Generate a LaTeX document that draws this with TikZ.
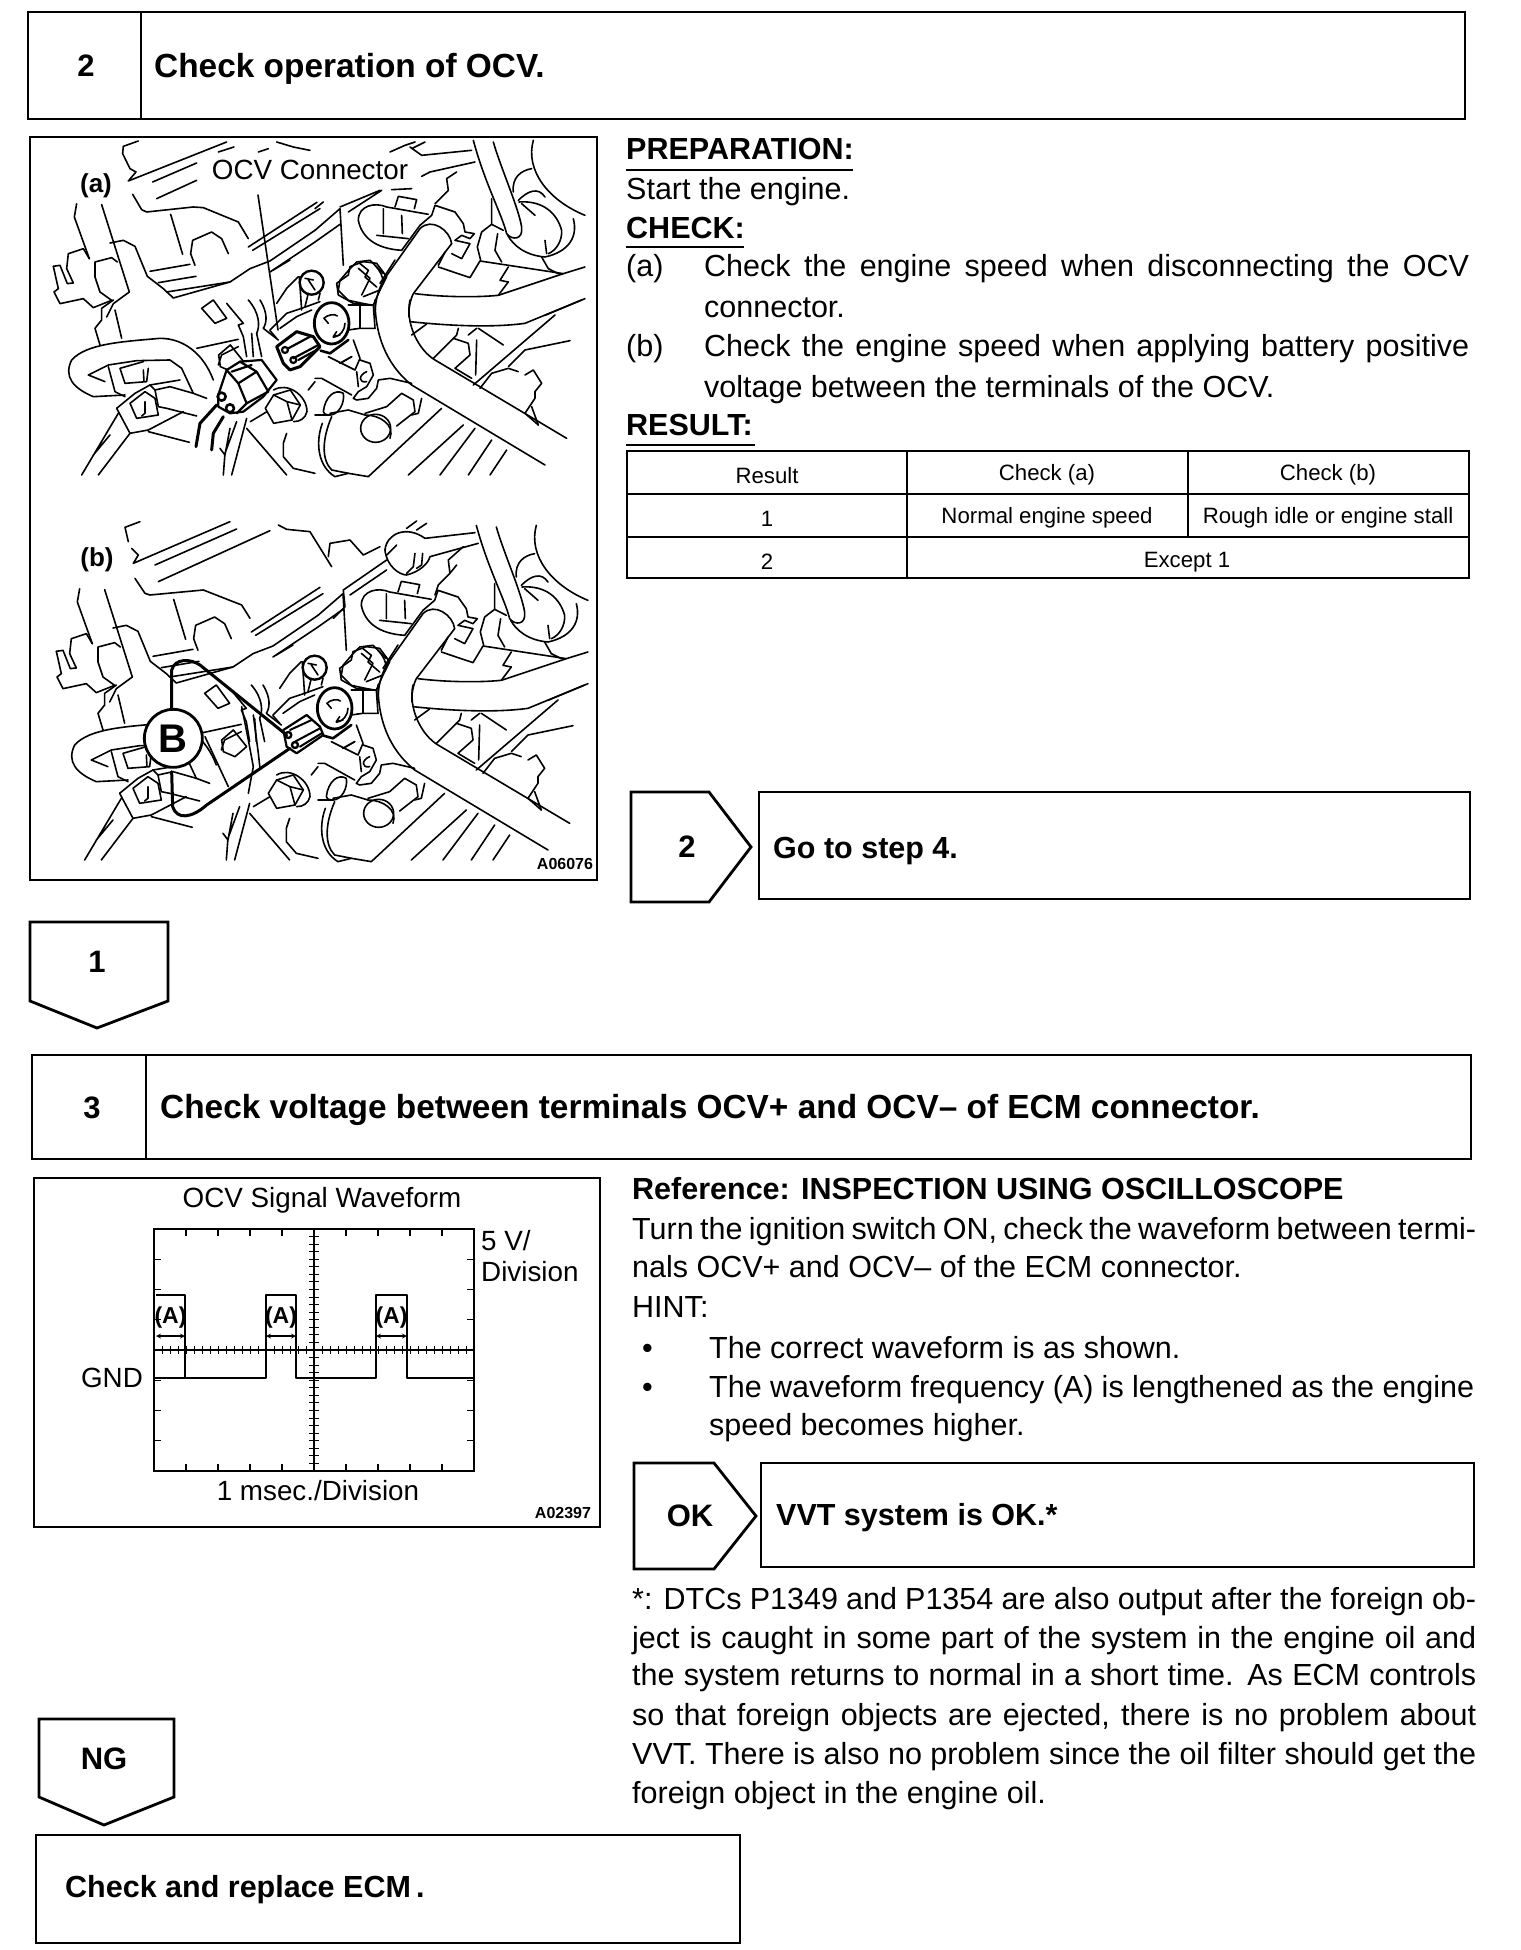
\documentclass[tikz,border=0pt]{standalone}
\usepackage{fontspec}
\setmainfont{Liberation Sans}
\newcommand{\bodyf}{\fontsize{30.5}{34}\selectfont}
\newcommand{\headf}{\fontsize{33.4}{38}\selectfont\bfseries}
\newcommand{\numf}{\fontsize{31}{36}\selectfont\bfseries}
\newcommand{\boldf}{\fontsize{30.5}{34}\selectfont\bfseries}
\newcommand{\tabf}{\fontsize{22.2}{26}\selectfont}
\newcommand{\figf}{\fontsize{27.8}{30}\selectfont}
\newcommand{\smallf}{\fontsize{16}{18}\selectfont\bfseries}
\newcommand{\jline}[2]{\makebox[#1][s]{\spaceskip=.278em plus .6em minus .2em\relax #2}}
\newcommand{\engbase}{%
 % ---- upper left quadrant
 \begin{scope}[shift={(30,137)},x=.3333pt,y=-.3333pt]
 \draw[eng] (422,232)--(458,352);
 \draw[eng] (495,385)--(482,350)--(488,310)--(545,285)--(575,305)--(595,350);
 \draw[eng] (360,403)--(480,382) (385,437)--(498,418) (410,465)--(600,435);
 \draw[eng] (140,200)--(133,240)--(178,365);
 \draw[eng] (215,203)--(298,465);
 \draw[eng] (240,318)--(280,310)--(315,328)--(352,418)--(400,455)--(430,483)--(600,435)--(660,395)--(720,372)--(855,280);
 \draw[eng] (655,330)--(861,196) (668,340)--(870,215);
 \draw[eng] (720,405)--(855,315)--(930,262);
 \draw[eng] (70,388)--(90,385)--(112,440)--(130,438)--(110,395)--(115,350)--(160,335)--(178,365);
 \draw[eng] (70,388)--(85,455)--(72,465)--(90,500)--(160,485)--(190,512)--(245,490)--(210,465)--(195,420)--(195,375)--(245,362)--(262,375);
 \draw[eng] (298,465)--(250,500)--(230,540);
 \end{scope}
 % ---- upper right quadrant
 \begin{scope}[shift={(315,137)},x=.3333pt,y=-.3333pt]
 \draw[eng] (0,280)--(75,215)--(85,385);
 \draw[eng] (410,320) .. controls (405,280) and (350,240) .. (315,275)--(205,430) .. controls (185,470) and (180,500) .. (180,540);
 \draw[eng] (410,320)--(295,470) .. controls (285,490) and (280,520) .. (282,540);
 \draw[eng] (315,265)--(350,235)--(360,205)--(420,225)--(445,260)--(450,285)--(478,290)--(465,305)--(440,295)--(420,310)--(465,320)--(440,365)--(410,350);
 \draw[eng] (130,250) .. controls (130,205) and (180,195) .. (215,210)--(340,232);
 \draw[eng] (130,250) .. controls (140,300) and (180,335) .. (260,340)--(315,265);
 \draw[eng] (205,215)--(205,290) (185,295)--(280,305) (260,235)--(262,290);
 \draw[eng] (250,178)--(305,188)--(298,215) (250,178)--(240,210);
 \draw[eng] (370,385)--(390,345) (370,390)--(465,422)--(495,372)--(745,410);
 \draw[eng] (497,370)--(487,330)--(500,285)--(530,262)--(565,280);
 \draw[eng] (530,185)--(530,262) (548,290)--(540,340)--(560,375);
 \draw[eng] (475,10) .. controls (510,140) and (560,230) .. (575,290) .. controls (590,310) and (625,310) .. (620,270) .. controls (610,210) and (560,100) .. (535,15);
 \draw[eng] (655,10) .. controls (630,100) and (700,190) .. (810,235);
 \draw[eng] (775,245) .. controls (790,300) and (760,345) .. (690,360) .. controls (630,355) and (595,325) .. (578,295);
 \draw[eng] (595,165) .. controls (590,120) and (620,100) .. (650,95);
 \draw[eng] (610,190) .. controls (640,160) and (670,150) .. (690,180);
 \draw[eng] (620,200)--(660,235);
 \draw[eng] (612,195) .. controls (680,190) and (725,225) .. (740,280) .. controls (742,310) and (725,340) .. (700,350);
 \draw[eng] (690,310)--(695,350);
 \draw[eng] (680,360)--(700,395)--(730,410);
 \draw[eng] (580,390)--(555,430)--(580,435)--(550,475);
 \draw[eng] (300,470) .. controls (380,480) and (480,482) .. (550,475)--(745,410)--(810,390);
 \draw[eng] (690,535)--(810,485);
 \draw[eng] (70,460)--(75,430)--(105,395)--(125,375)--(165,370)--(205,410);
 \draw[eng] (135,380)--(160,400)--(150,420)--(185,450);
 \draw[eng] (180,385) .. controls (195,400) and (205,420) .. (205,440);
 \draw[eng] (70,460)--(100,490)--(170,505);
 \end{scope}
 % ---- lower left quadrant
 \begin{scope}[shift={(30,300)},x=.3333pt,y=-.3333pt]
 \draw[eng] (210,135)--(195,85)--(215,60)--(215,25)--(250,0);
 \draw[eng] (255,30)--(275,115);
 \draw[eng] (550,240) .. controls (520,160) and (460,115) .. (390,115) .. controls (280,125) and (170,130) .. (125,180) .. controls (100,230) and (130,265) .. (190,290)--(285,285);
 \draw[eng] (175,225)--(235,195)--(320,182)--(420,180)--(455,205)--(490,280)--(530,295);
 \draw[eng] (175,225)--(225,245) (235,200)--(255,275)--(285,290);
 \draw[eng] (270,205)--(285,250)--(350,245)--(355,205) (270,205)--(340,185) (340,210)--(342,245);
 \draw[eng] (260,325)--(315,280)--(360,255)--(450,240);
 \draw[eng] (360,255)--(375,270)--(420,260)--(490,280);
 \draw[eng] (375,270)--(385,320)--(410,325)--(500,348);
 \draw[eng] (260,325)--(300,400)--(355,390)--(460,335);
 \draw[eng] (355,395)--(478,427);
 \draw[eng] (300,310)--(320,355)--(385,345)--(375,295)--(345,275)--cycle;
 \draw[eng] (345,305)--(345,340)--(335,348);
 \draw[eng] (155,525)--(265,340) (205,525)--(300,400) (190,465)--(240,405);
 \draw[eng] (500,145)--(625,118);
 \draw[eng] (565,195)--(575,165)--(625,140);
 \draw[eng] (515,25)--(555,70)--(590,55)--(550,0)--cycle;
 \draw[eng] (590,10)--(640,70)--(625,75)--(640,110)--(650,170);
 \draw[eng] (665,100)--(670,170) (680,100)--(695,170);
 \draw[eng] (655,0) .. controls (690,40) and (690,80) .. (680,100);
 \draw[eng] (690,0) .. controls (715,40) and (710,70) .. (700,85)--(745,120);
 \draw[eng] (580,525)--(585,460)--(620,365) (605,525)--(650,355) (570,445)--(585,465)--(600,385);
 \draw[eng] (650,385)--(770,525);
 \draw[eng] (770,400)--(760,430)--(760,470)--(790,505)--(855,520);
 \draw[eng] (835,270)--(855,245);
 \end{scope}
 % ---- lower right quadrant
 \begin{scope}[shift={(315,300)},x=.3333pt,y=-.3333pt]
 \draw[eng] (180,0) .. controls (180,100) and (210,190) .. (290,255)--(690,495);
 \draw[eng] (285,0) .. controls (270,70) and (310,150) .. (360,180)--(755,415);
 \draw[eng] (285,65) .. controls (380,75) and (520,85) .. (630,70)--(800,0);
 \draw[eng] (290,105)--(335,72) (355,175)--(425,105)--(430,85);
 \draw[eng] (415,115)--(460,130)--(465,165)--(420,205)--(470,235);
 \draw[eng] (490,85)--(565,135) (460,105)--(485,85) (485,120)--(482,225);
 \draw[eng] (475,255)--(720,45) (580,200)--(630,150)--(765,122);
 \draw[eng] (495,265)--(530,220)--(580,205)--(610,215);
 \draw[eng] (630,225)--(655,210)--(680,250)--(660,275)--(660,295)--(630,340)--(670,375);
 \draw[eng] (650,320)--(670,375);
 \draw[eng] (115,120)--(135,175)--(120,210)--(40,170);
 \draw[eng] (75,190)--(110,170);
 \draw[eng] (135,180)--(165,190)--(175,225)--(155,260)--(130,275)--(115,295)--(125,300)--(160,295)--(185,265)--(190,240)--(225,235)--(290,250);
 \draw[eng] (125,215)--(130,260);
 \draw[eng] (155,215) .. controls (130,225) and (130,250) .. (155,245);
 \draw[eng] (135,20)--(135,85) (100,15)--(170,15) (120,85)--(180,85);
 \draw[eng] (182,385) ellipse [x radius=45,y radius=42];
 \draw[eng] (150,345) .. controls (195,345) and (240,375) .. (225,415);
 \draw[eng] (150,340)--(215,320)--(260,280)--(295,300)--(300,335)--(245,378);
 \draw[eng] (320,295)--(310,340)--(290,345);
 \draw[eng] (160,530)--(380,325) (280,525)--(445,375) (375,525)--(480,385) (460,525)--(530,420) (525,525)--(575,450);
 \draw[eng] (25,335) .. controls (30,290) and (60,265) .. (85,280) .. controls (90,310) and (70,345) .. (45,345) .. controls (30,345) and (25,340) .. (25,335);
 \draw[eng] (45,340)--(100,330)--(150,345);
 \draw[eng] (22,370) .. controls (0,430) and (10,500) .. (60,530)--(100,520)--(160,530);
 \draw[eng] (50,350) .. controls (20,420) and (20,480) .. (50,510)--(100,520);
 \draw[eng] (0,235)--(20,235)--(110,285);
 \draw[eng] (0,345)--(45,345);
 \end{scope}
 % ---- centre: valve, bolt, cylinder
 \begin{scope}[shift={(230,260)},x=.3333pt,y=-.3333pt]
 \draw[eng] (130,30)--(180,0);
 \draw[eng] (140,130)--(170,85)--(205,50);
 \draw[eng] (120,210)--(170,160)--(215,145)--(270,125);
 \draw[eng] (150,205)--(200,170)--(245,150);
 \draw[eng] (120,212)--(140,235);
 \draw[eng] (208,50)--(215,150) (235,100)--(225,140) (270,100)--(265,120);
 \draw[eng,line width=2.4pt] (245,68) circle (36);
 \draw[eng] (235,60)--(255,90) (225,55)--(250,60);
 \draw[eng,line width=2.8pt] (305,190) ellipse [x radius=52,y radius=62];
 \draw[eng] (282,175) .. controls (290,165) and (315,160) .. (322,168);
 \draw[eng] (282,175)--(295,190) (320,215)--(310,230)--(330,225) (345,190) .. controls (345,210) and (330,230) .. (310,232);
 \draw[eng,line width=2.6pt] (272,272)--(300,280)--(355,240);
 \draw[eng] (330,310)--(365,290);
 \draw[eng] (325,105)--(320,70)--(355,45)--(360,20)--(400,5)--(440,10)--(470,50)--(450,90)--(400,110);
 \draw[eng] (325,105)--(370,130)--(430,135)--(450,90) (495,0)--(450,70) (385,25)--(420,55)--(395,105);
 \draw[eng] (390,140)--(390,205)--(435,205)--(430,135) (355,210)--(390,205);
 \end{scope}
 % ---- nut and hexagon
 \begin{scope}[shift={(117,255)},x=.3333pt,y=-.3333pt]
 \draw[eng] (305,300)--(340,270)--(380,320)--(345,350)--(310,335)--cycle;
 \draw[eng] (445,460)--(470,420)--(520,405)--(550,450)--(525,495)--(470,505)--cycle;
 \draw[eng] (470,420)--(510,440)--(550,450) (510,440)--(525,495);
 \draw[eng] (470,405) .. controls (510,380) and (570,420) .. (570,470) .. controls (565,490) and (550,500) .. (530,500);
 \draw[eng] (400,500)--(450,470);
 \end{scope}
}
\tikzset{
 x=1pt,y=-1pt,
 box/.style={draw,line width=2.8pt,line join=miter},
 eng/.style={draw,line width=1.6pt,line join=round,line cap=round},
 lead/.style={draw,line width=3pt,line join=round,line cap=round},
 trace/.style={draw,line width=2.6pt,line join=round},
 grid/.style={draw,line width=1.6pt},
 tick/.style={draw,line width=1pt},
 body/.style={anchor=base west,inner sep=0pt,font=\bodyf},
 bold/.style={anchor=base west,inner sep=0pt,font=\boldf},
 head/.style={anchor=base west,inner sep=0pt,font=\headf},
 num/.style={anchor=center,inner sep=0pt,font=\numf},
 cell/.style={anchor=center,inner sep=0pt,font=\tabf},
 fig/.style={anchor=center,inner sep=0pt,font=\figf},
 code/.style={anchor=center,inner sep=0pt,font=\smallf},
 rule/.style={draw,line width=1.8pt},
 panel/.style={anchor=center,inner sep=0pt,font=\fontsize{26}{30}\selectfont\bfseries},
}
\begin{document}
\begin{tikzpicture}
\useasboundingbox[fill=white] (0,0) rectangle (1520,1950);
% ---- step 2 header
\draw[box] (28,12) rectangle (1465,119);
\draw[box] (141,12)--(141,119);
\node[num] (n2) at (86,66) {2};
\node[head] (h2) at (154,78) {Check operation of OCV.};
% ---- engine illustration
\draw[box] (30,137) rectangle (597,880);
\engbase
% top strip of view (a)
\begin{scope}[shift={(30,137)},x=.3333pt,y=-.3333pt]
 \draw[eng] (325,12)--(280,28)--(278,50)--(300,95)--(318,105)--(295,132)--(590,15);
 \draw[eng] (368,135)--(500,78) (380,185)--(500,130);
 \draw[eng] (565,45)--(612,30) (685,45)--(715,35) (740,15)--(790,30)--(840,40);
 \draw[eng] (308,172)--(335,218)--(350,225)--(490,210)--(520,212)--(625,255)--(655,305);
\end{scope}
\begin{scope}[shift={(315,137)},x=.3333pt,y=-.3333pt]
 \draw[eng] (225,45)--(270,25)--(300,15) (290,35)--(330,15) (285,30)--(320,55)--(470,40);
 \draw[eng] (320,118)--(345,105)--(480,75);
 \draw[eng] (400,160)--(395,125)--(425,105) (400,160)--(360,200);
 \draw[eng] (0,215)--(25,195) (100,225)--(200,160) (75,210)--(195,160) (230,158)--(290,155);
\end{scope}
\begin{scope}[shift={(230,260)},x=.3333pt,y=-.3333pt]
 % connector of view (a), plugged-off half
 \draw[eng,line width=3pt,fill=white] (140,260)--(200,215)--(250,230)--(270,260)--(210,320)--(180,330)--(160,310)--cycle;
 \draw[eng,line width=2.2pt] (175,265)--(240,230) (190,295)--(265,255) (205,300)--(260,270);
 \draw[eng,line width=2.2pt] (165,270) circle (9) (190,300) circle (9);
\end{scope}
\begin{scope}[shift={(30,300)},x=.3333pt,y=-.3333pt]
 \draw[eng,line width=2.2pt,fill=white] (565,285)--(590,210)--(630,185)--(695,180)--(740,240)--(700,290)--(640,335)--(600,340)--(565,320)--cycle;
 \draw[eng,line width=2.2pt] (625,250)--(680,215)--(715,275)--(650,310)--cycle (590,210)--(625,250) (630,185)--(680,215) (650,310)--(620,340) (605,215)--(665,195);
 \draw[eng,line width=2.6pt] (575,290) circle (12) (600,325) circle (12);
 \draw[eng,line width=3pt] (498,440)--(510,370)--(560,315);
 \draw[eng,line width=3pt] (545,450)--(550,400)--(580,350);
\end{scope}
\coordinate (ocvfoot) at (278,330);
\node[fig,inner xsep=1pt] (ocv) at (310,170) {OCV Connector};
\draw[eng] (ocv.south)++(-52,15) coordinate (ocvtop) -- (ocvfoot);
\node[panel] (la) at (96,186) {(a)};
% view (b)
\begin{scope}[shift={(3,385)}]
 \engbase
\end{scope}
\begin{scope}[shift={(100,510)},x=.3333pt,y=-.3333pt]
 \draw[eng] (120,35)--(75,52)--(85,95) (95,115)--(115,135)--(100,160)--(390,35);
 \draw[eng] (165,165)--(410,57) (175,215)--(510,62);
 \draw[eng] (105,205)--(135,250)--(150,255)--(310,240)--(425,285)--(450,325);
 \draw[eng] (535,45)--(560,58)--(630,65)--(695,170);
 \draw[eng] (685,140)--(690,100)--(750,90)--(790,135)--(840,110);
 \draw[eng] (855,120) .. controls (860,70) and (920,45) .. (975,85)--(1125,68);
 \draw[eng] (855,120) .. controls (860,170) and (900,195) .. (920,195) .. controls (960,185) and (985,160) .. (990,140)--(1135,100);
 \draw[eng] (920,55)--(950,33) (950,60)--(980,40) (860,135)--(890,105);
 \draw[eng] (945,130)--(940,170)--(920,190) (968,130)--(965,165)--(950,175);
 \draw[eng] (730,240)--(860,150) (750,255)--(860,180);
 \draw[eng] (1090,110)--(1045,150)--(1050,190)--(1015,225)--(1005,255) (1070,165)--(1050,190);
 \draw[eng] (730,240)--(735,290)--(700,325);
\end{scope}
\begin{scope}[shift={(120,640)},x=.3333pt,y=-.3333pt]
 \draw[eng] (255,290)--(325,440);
 \draw[eng] (365,200)--(385,300)--(400,380)--(385,460);
 \draw[eng] (400,225)--(415,340)--(420,385);
 \draw[eng,line width=2.2pt,fill=white] (490,270)--(560,225)--(600,260)--(610,285)--(530,340)--(500,320)--cycle;
 \draw[eng,line width=2pt] (510,270)--(575,240) (525,305)--(600,265) (540,320)--(605,280);
 \draw[eng,line width=2.4pt] (505,285) circle (9) (525,315) circle (9);
 \draw[lead] (155,210)--(155,90) .. controls (165,55) and (210,55) .. (240,75)--(500,285);
 \draw[lead] (155,395)--(158,500) .. controls (170,540) and (215,535) .. (260,495)--(510,325);
 \node[circle,draw,line width=2.8pt,fill=white,minimum size=58pt,inner sep=0pt,font=\fontsize{40}{44}\selectfont\bfseries] (B) at (160,295) {B};
\end{scope}
\node[panel] (lb) at (97,560) {(b)};
\node[code] (a06) at (565,864) {A06076};
% ---- step 2 text
\node[bold] (prep) at (626,160) {PREPARATION:};
\draw[rule] (626,170)--(853,170);
\node[body] (t1) at (626,200) {Start the engine.};
\node[bold] (chk) at (626,239) {CHECK:};
\draw[rule] (626,247)--(744,247);
\node[body] (t2a) at (626,277) {(a)};
\node[body] (t2) at (704,277) {\jline{765pt}{Check the engine speed when disconnecting the OCV}};
\node[body] (t3) at (704,317) {connector.};
\node[body] (t4a) at (626,356) {(b)};
\node[body] (t4) at (704,356) {\jline{765pt}{Check the engine speed when applying battery positive}};
\node[body] (t5) at (704,397) {voltage between the terminals of the OCV.};
\node[bold] (res) at (626,435) {RESULT:};
\draw[rule] (626,445)--(755,445);
% ---- table
\draw[box,line width=2.6pt] (627,451) rectangle (1469,578);
\draw[box,line width=2.2pt] (627,494)--(1469,494) (627,537)--(1469,537);
\draw[box,line width=2.2pt] (907,451)--(907,578) (1188,451)--(1188,537);
\node[cell] (c11) at (767,476) {Result};
\node[cell] (c12) at (1047,475) {Check (a)};
\node[cell] (c13) at (1328,475) {Check (b)};
\node[cell] (c21) at (767,519) {1};
\node[cell] (c22) at (1047,518) {Normal engine speed};
\node[cell] (c23) at (1328,518) {Rough idle or engine stall};
\node[cell] (c31) at (767,562) {2};
\node[cell] (c32) at (1187,562) {Except 1};
% ---- go to step 4
\draw[box] (631,792)--(709,792)--(751,847)--(709,902)--(631,902)--cycle;
\node[num] (n2b) at (687,847) {2};
\draw[box] (759,792) rectangle (1470,899);
\node[bold] (go) at (773,858) {Go to step 4.};
% ---- tab 1
\draw[box] (30,922)--(168,922)--(168,1001)--(97,1028)--(30,1001)--cycle;
\node[num] (n1) at (97,962) {1};
% ---- step 3 header
\draw[box] (32,1055) rectangle (1471,1159);
\draw[box] (146,1055)--(146,1159);
\node[num] (n3) at (92,1108) {3};
\node[head] (h3) at (160,1118) {Check voltage between terminals OCV+ and OCV– of ECM connector.};
% ---- oscilloscope
\draw[box] (34,1178) rectangle (600,1527);
\node[fig] (osc) at (322,1200) {OCV Signal Waveform};
\draw[grid] (154,1229) rectangle (474,1471);
\foreach \i in {1,...,9} {
 \draw[tick,line width=1.4pt] ({154+\i*32},1229)--({154+\i*32},1236);
 \draw[tick,line width=1.4pt] ({154+\i*32},1471)--({154+\i*32},1464);
}
\foreach \i in {1,...,7} {
 \draw[tick,line width=1.4pt] (154,{1229+\i*30.25})--(161,{1229+\i*30.25});
 \draw[tick,line width=1.4pt] (474,{1229+\i*30.25})--(467,{1229+\i*30.25});
}
\draw[grid] (154,1350)--(474,1350) (314,1229)--(314,1471);
\foreach \i in {1,...,39} {
 \draw[tick] ({154+\i*8},1346)--({154+\i*8},1354);
}
\foreach \i in {1,...,31} {
 \draw[tick] (309,{1229+\i*7.56})--(319,{1229+\i*7.56});
}
\draw[trace] (156,1295)--(185,1295)--(185,1378)--(266,1378)--(266,1295)--(296,1295)--(296,1378)--(376,1378)--(376,1295)--(407,1295)--(407,1378)--(474,1378);
\draw[trace,line width=1.8pt] (154,1378)--(185,1378);
\foreach \a/\b/\n in {156/185/p,266/296/q,376/407/r} {
 \node[cell,font=\fontsize{23}{26}\selectfont\bfseries] (lab\n) at ({(\a+\b)/2},1318) {(A)};
 \coordinate (aL\n) at (\a,1336);
 \coordinate (aR\n) at (\b,1336);
 \draw[line width=1.2pt,<->,>=stealth] (aL\n)--(aR\n);
}
\node[fig,anchor=west] (v5) at (481,1241) {5 V/};
\node[fig,anchor=west] (div) at (481,1272) {Division};
\node[fig] (gnd) at (112,1378) {GND};
\node[fig] (ms) at (318,1491) {1 msec./Division};
\node[code] (a02) at (563,1513) {A02397};
% ---- step 3 text
\node[bold] (ref) at (632,1199) {Reference: INSPECTION USING OSCILLOSCOPE};
\node[body] (r1) at (632,1239) {\jline{844pt}{Turn the ignition switch ON, check the waveform between termi-}};
\node[body] (r2) at (632,1277) {nals OCV+ and OCV– of the ECM connector.};
\node[body] (r3) at (632,1317) {HINT:};
\node[body] (b1) at (642,1358) {•};
\node[body] (r4) at (709,1358) {The correct waveform is as shown.};
\node[body] (b2) at (642,1397) {•};
\node[body] (r5) at (709,1397) {\jline{765pt}{The waveform frequency (A) is lengthened as the engine}};
\node[body] (r6) at (709,1435) {speed becomes higher.};
% ---- OK
\draw[box] (634,1463)--(714,1463)--(756,1516)--(714,1569)--(634,1569)--cycle;
\node[num] (ok) at (690,1516) {OK};
\draw[box] (761,1463) rectangle (1474,1567);
\node[bold] (vvt) at (776,1525) {VVT system is OK.*};
% ---- footnote
\node[body] (f1) at (632,1609) {\jline{844pt}{*: DTCs P1349 and P1354 are also output after the foreign ob-}};
\node[body] (f2) at (632,1648) {\jline{844pt}{ject is caught in some part of the system in the engine oil and}};
\node[body] (f3) at (632,1685) {\jline{844pt}{the system returns to normal in a short time. As ECM controls}};
\node[body] (f4) at (632,1725) {\jline{844pt}{so that foreign objects are ejected, there is no problem about}};
\node[body] (f5) at (632,1764) {\jline{844pt}{VVT. There is also no problem since the oil filter should get the}};
\node[body] (f6) at (632,1803) {foreign object in the engine oil.};
% ---- NG
\draw[box] (39,1719)--(174,1719)--(174,1797)--(104,1825)--(39,1797)--cycle;
\node[num] (ng) at (104,1759) {NG};
\draw[box] (36,1835) rectangle (740,1943);
\node[bold] (ecm) at (65,1897) {Check and replace ECM\,.};
\end{tikzpicture}
\end{document}
